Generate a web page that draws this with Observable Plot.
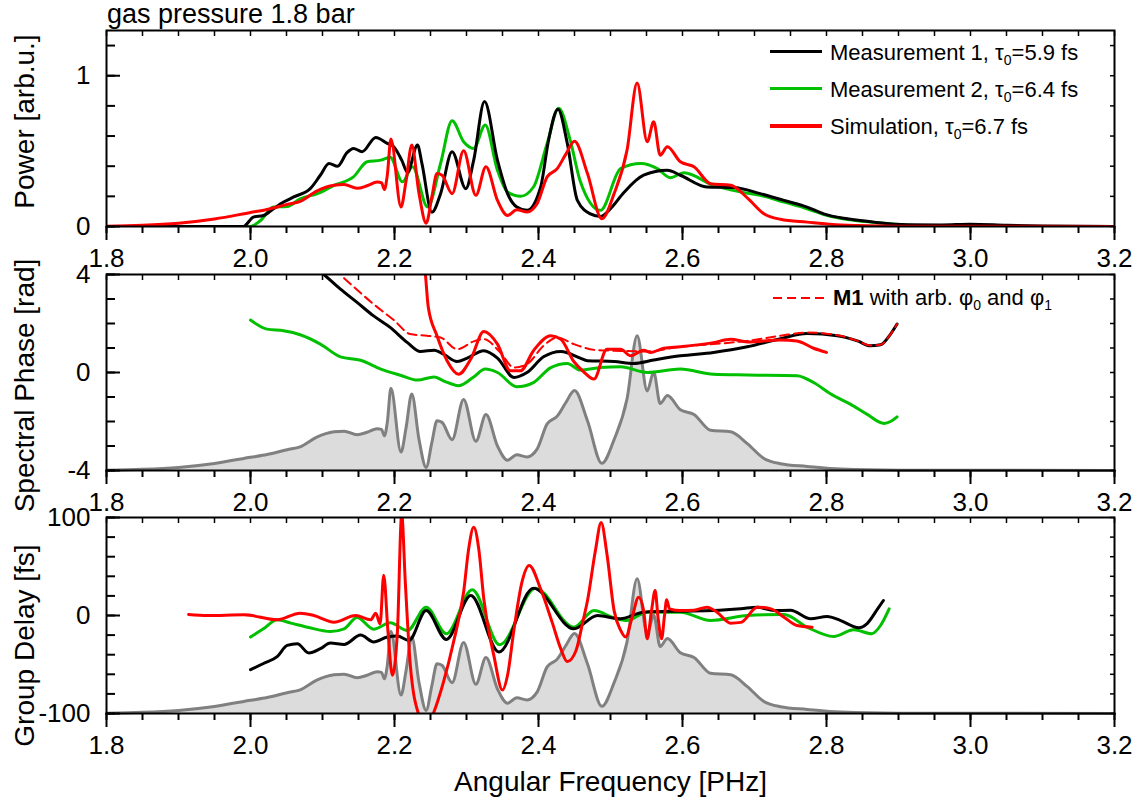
<!DOCTYPE html>
<html><head><meta charset="utf-8">
<script src="https://cdn.jsdelivr.net/npm/d3@7"></script>
<script src="https://cdn.jsdelivr.net/npm/@observablehq/plot@0.6"></script>
<style>
body{margin:0;background:#fff;font-family:"Liberation Sans",Arial,Helvetica,sans-serif;color:#000;}
#wrap{position:relative;width:1139px;height:809px;overflow:hidden;background:#fff;}
.abs{position:absolute;white-space:nowrap;}
.lg{font-size:22px;line-height:22px;}
.lg sub{font-size:14px;vertical-align:-5px;line-height:0;}
</style></head><body><div id="wrap"></div>
<script>
// ---------- axis ticks ----------
const xMajor = [1.8, 2.0, 2.2, 2.4, 2.6, 2.8, 3.0, 3.2];
const xMinor = d3.range(0, 29).map(i => +(1.8 + i * 0.05).toFixed(2));
const powerDomain = [0, 1.3];
const powerMajor = [0, 1];
const powerMinor = [0, 0.2, 0.4, 0.6, 0.8, 1.0, 1.2];
const phaseDomain = [-4, 4];
const phaseMajor = [-4, 0, 4];
const phaseMinor = [-4, -3, -2, -1, 0, 1, 2, 3, 4];
const gdDomain = [-100, 100];
const gdMajor = [-100, 0, 100];
const gdMinor = [-100, -80, -60, -40, -20, 0, 20, 40, 60, 80, 100];

// ---------- Power spectra [x, power] ----------
const powerM1 = [[1.80,0],[1.99,0],[2.004,0.062],[2.018,0.073],[2.032,0.118],[2.046,0.162],[2.06,0.196],[2.083,0.251],[2.097,0.34],[2.109,0.418],[2.121,0.40],[2.134,0.49],[2.143,0.518],[2.155,0.496],[2.174,0.591],[2.19,0.551],[2.199,0.529],[2.21,0.44],[2.218,0.36],[2.232,0.54],[2.238,0.42],[2.252,0.095],[2.264,0.218],[2.28,0.496],[2.299,0.251],[2.31,0.44],[2.325,0.829],[2.343,0.44],[2.357,0.218],[2.37,0.129],[2.384,0.107],[2.403,0.262],[2.414,0.573],[2.427,0.778],[2.44,0.551],[2.454,0.173],[2.472,0.084],[2.486,0.067],[2.5,0.118],[2.518,0.222],[2.546,0.34],[2.579,0.373],[2.597,0.34],[2.634,0.262],[2.671,0.258],[2.708,0.218],[2.741,0.173],[2.773,0.129],[2.796,0.084],[2.829,0.051],[2.866,0.029],[2.912,0.012],[2.96,0.01],[3.0,0.015],[3.05,0.008],[3.1,0.003],[3.2,0]];
const powerM2 = [[1.80,0],[2.0,0],[2.014,0.04],[2.032,0.129],[2.051,0.133],[2.069,0.184],[2.093,0.218],[2.116,0.273],[2.143,0.329],[2.162,0.429],[2.181,0.44],[2.194,0.46],[2.211,0.296],[2.225,0.396],[2.246,0.129],[2.264,0.418],[2.28,0.702],[2.296,0.562],[2.31,0.518],[2.326,0.673],[2.343,0.373],[2.357,0.229],[2.375,0.2],[2.393,0.262],[2.412,0.551],[2.428,0.784],[2.444,0.573],[2.458,0.3],[2.486,0.107],[2.514,0.384],[2.542,0.418],[2.565,0.384],[2.583,0.324],[2.602,0.356],[2.643,0.273],[2.681,0.229],[2.708,0.207],[2.741,0.162],[2.773,0.118],[2.801,0.073],[2.833,0.044],[2.88,0.022],[2.935,0.005],[3.0,0],[3.2,0]];
const powerSim = [[1.80,0.002],[1.85,0.008],[1.90,0.022],[1.95,0.05],[2.00,0.093],[2.023,0.113],[2.051,0.147],[2.069,0.167],[2.092,0.235],[2.116,0.273],[2.13,0.278],[2.148,0.253],[2.162,0.27],[2.176,0.295],[2.182,0.29],[2.186,0.245],[2.19,0.34],[2.195,0.58],[2.209,0.13],[2.216,0.3],[2.224,0.54],[2.234,0.22],[2.244,0.022],[2.252,0.2],[2.259,0.351],[2.266,0.34],[2.28,0.218],[2.296,0.502],[2.313,0.207],[2.327,0.396],[2.343,0.173],[2.357,0.073],[2.37,0.111],[2.384,0.096],[2.398,0.151],[2.412,0.329],[2.426,0.384],[2.438,0.48],[2.45,0.565],[2.468,0.351],[2.488,0.051],[2.505,0.218],[2.523,0.507],[2.537,0.951],[2.551,0.562],[2.56,0.695],[2.569,0.473],[2.579,0.529],[2.597,0.429],[2.616,0.396],[2.639,0.284],[2.667,0.273],[2.69,0.19],[2.713,0.085],[2.736,0.048],[2.773,0.029],[2.82,0.01],[2.9,0.002],[3.2,0]];

// ---------- Spectral phase [x, rad] ----------
const phaseM1 = [[2.0,6.9],[2.05,5.3],[2.08,4.55],[2.102,4.0],[2.125,3.4],[2.148,2.86],[2.171,2.31],[2.194,1.84],[2.218,1.22],[2.236,0.86],[2.255,0.91],[2.268,0.75],[2.287,0.45],[2.301,0.59],[2.324,0.89],[2.343,0.59],[2.366,-0.2],[2.384,0.0],[2.407,0.64],[2.431,0.86],[2.458,0.59],[2.468,0.48],[2.505,0.45],[2.532,0.37],[2.56,0.51],[2.597,0.68],[2.643,0.82],[2.69,1.05],[2.736,1.38],[2.773,1.59],[2.815,1.5],[2.843,1.29],[2.861,1.09],[2.875,1.13],[2.889,1.57],[2.898,1.98]];
const phaseM1arb = [[2.13,3.85],[2.171,2.79],[2.199,2.14],[2.222,1.57],[2.245,1.5],[2.264,1.43],[2.287,0.95],[2.31,1.27],[2.324,1.36],[2.347,0.82],[2.366,0.2],[2.384,0.34],[2.407,1.09],[2.426,1.43],[2.449,1.16],[2.482,0.91],[2.505,0.89],[2.551,0.86],[2.597,1.05],[2.643,1.16],[2.69,1.29],[2.736,1.5],[2.773,1.63],[2.819,1.5],[2.843,1.29],[2.861,1.1],[2.875,1.13],[2.889,1.57],[2.898,1.98]];
const phaseM2 = [[2.0,2.14],[2.023,1.77],[2.046,1.7],[2.069,1.54],[2.097,1.16],[2.125,0.64],[2.153,0.5],[2.181,0.14],[2.208,-0.11],[2.232,-0.31],[2.255,-0.18],[2.268,-0.34],[2.289,-0.54],[2.31,-0.18],[2.326,0.14],[2.343,0.0],[2.37,-0.58],[2.393,-0.41],[2.417,0.2],[2.44,0.37],[2.458,0.1],[2.486,0.2],[2.514,0.23],[2.551,0.0],[2.597,0.14],[2.643,-0.07],[2.69,-0.1],[2.759,-0.13],[2.782,-0.41],[2.806,-0.88],[2.833,-1.29],[2.856,-1.7],[2.88,-2.08],[2.889,-2.0],[2.898,-1.81]];
const phaseSim = [[2.232,8.0],[2.243,4.0],[2.247,2.65],[2.259,1.5],[2.273,0.48],[2.289,-0.07],[2.306,0.55],[2.324,1.67],[2.343,1.16],[2.361,0.07],[2.375,0.07],[2.393,0.89],[2.417,1.5],[2.431,1.36],[2.449,0.45],[2.462,0.05],[2.477,-0.27],[2.495,0.95],[2.514,0.95],[2.528,0.68],[2.546,0.91],[2.556,0.82],[2.574,0.99],[2.597,1.05],[2.643,1.22],[2.667,1.36],[2.69,1.25],[2.736,1.33],[2.759,1.29],[2.782,0.99],[2.8,0.82]];

// ---------- Group delay [x, fs] ----------
const gdM1 = [[2.0,-55.3],[2.018,-49],[2.037,-42],[2.051,-30.5],[2.065,-28.8],[2.081,-38.3],[2.097,-33.9],[2.111,-28.1],[2.13,-29.5],[2.153,-20],[2.171,-27],[2.19,-22],[2.204,-21],[2.22,-25.4],[2.244,5],[2.272,-24.4],[2.306,20.3],[2.345,-37.3],[2.393,27.8],[2.449,-13.6],[2.482,0],[2.514,-3.4],[2.546,3.4],[2.597,4.4],[2.643,5],[2.681,6.8],[2.704,8.5],[2.727,5],[2.75,5.4],[2.778,-3.4],[2.801,-1],[2.819,-5],[2.845,-12.5],[2.856,-8.5],[2.871,6.8],[2.879,15.3]];
const gdM2 = [[2.0,-22],[2.018,-13.6],[2.037,-4.4],[2.056,-7.8],[2.079,-11.9],[2.111,-16.3],[2.13,-13.6],[2.148,-2],[2.171,-14],[2.194,-7.5],[2.218,-15.3],[2.244,8.5],[2.272,-18.6],[2.308,26.4],[2.346,-29.8],[2.396,27.8],[2.449,-11.9],[2.477,5],[2.505,-2.4],[2.523,-5],[2.551,3.4],[2.597,3.4],[2.639,-5],[2.69,0],[2.741,1],[2.773,-11.9],[2.81,-21.4],[2.838,-14.6],[2.863,-18.6],[2.875,-10.2],[2.887,6.8]];
const gdSim = [[1.914,1],[1.94,0],[1.991,0.7],[2.037,-4.4],[2.069,2.4],[2.088,0],[2.116,-6.8],[2.146,0],[2.167,-4.4],[2.174,2.4],[2.18,-8.5],[2.185,41],[2.191,-17],[2.197,-61],[2.204,-17],[2.21,103],[2.215,34],[2.222,-51],[2.234,-102],[2.245,-115],[2.255,-98],[2.268,-68],[2.282,-27],[2.296,24],[2.303,68],[2.31,90],[2.317,68],[2.324,17],[2.338,-41],[2.35,-76],[2.357,-61],[2.366,-14],[2.377,34],[2.387,51],[2.403,27],[2.419,-7],[2.431,-34],[2.44,-47],[2.452,-36],[2.462,-5],[2.468,15],[2.479,66],[2.487,95],[2.495,63],[2.505,5],[2.514,-15],[2.521,-22],[2.53,-2],[2.539,18.6],[2.546,5],[2.551,-23.7],[2.557,5],[2.562,25.4],[2.566,-2],[2.571,-23.7],[2.575,0],[2.578,16],[2.582,6.8],[2.597,5],[2.616,5.4],[2.634,8.5],[2.648,3.4],[2.667,-7.8],[2.681,-7],[2.704,8.5],[2.722,7],[2.741,-1.7],[2.759,-10.2],[2.78,-11.9]];

// ---------- styles ----------
const FONT = '"Liberation Sans", Arial, Helvetica, sans-serif';
const BLACK = "#000000", GREEN = "#00c000", RED = "#ff0000", GRAY = "#808080", GRAYFILL = "#dcdcdc";
const specFrac = 0.7225; // gray spectrum height as fraction of the panel's y range

const X = d => d[0], Y = d => d[1];
function ln(data, stroke, extra = {}) {
  return Plot.line(data, {x: X, y: Y, stroke, strokeWidth: 3, curve: "monotone-x", clip: true, ...extra});
}
function graySpectrum(domain) {
  const base = domain[0], k = (domain[1] - domain[0]) * specFrac;
  return [
    Plot.areaY(powerSim, {x: X, y1: base, y2: d => base + d[1] * k, fill: GRAYFILL, curve: "monotone-x"}),
    Plot.line(powerSim, {x: X, y: d => base + d[1] * k, stroke: GRAY, strokeWidth: 3, curve: "monotone-x"})
  ];
}
function axes(yMajor, yMinor) {
  const none = () => "";
  return [
    Plot.frame({stroke: BLACK, strokeWidth: 2}),
    Plot.axisX(xMinor, {anchor: "bottom", tickSize: 7, strokeWidth: 2, tickFormat: none, label: null}),
    Plot.axisX(xMajor, {anchor: "bottom", tickSize: 14, strokeWidth: 2, tickFormat: none, label: null}),
    Plot.axisX(xMajor, {anchor: "bottom", tickSize: 0, tickPadding: 22, tickFormat: d => d.toFixed(1), fontSize: 26, fontFamily: FONT, fill: BLACK, label: null}),
    Plot.axisX(xMinor, {anchor: "top", tickSize: -5, strokeWidth: 1.5, tickFormat: none, label: null}),
    Plot.axisY(yMinor, {anchor: "left", tickSize: -9, strokeWidth: 2, tickFormat: none, label: null}),
    Plot.axisY(yMajor, {anchor: "left", tickSize: -14, strokeWidth: 2, tickFormat: none, label: null}),
    Plot.axisY(yMajor, {anchor: "left", tickSize: 0, tickPadding: 16, tickFormat: d => String(d), fontSize: 26, fontFamily: FONT, fill: BLACK, label: null}),
    Plot.axisY(yMinor, {anchor: "right", tickSize: -5, strokeWidth: 1.5, tickFormat: none, label: null})
  ];
}
function yTitle(text, dy) {
  return Plot.text([text], {frameAnchor: "left", textAnchor: "middle", lineAnchor: "middle", text: d => d, rotate: -90, dx: -81, dy, fontSize: 28, fontFamily: FONT, fill: BLACK});
}
function panel({top, height, mt, mb, domain, marks}) {
  const svg = Plot.plot({
    width: 1139, height, marginLeft: 106, marginRight: 25, marginTop: mt, marginBottom: mb,
    style: `overflow: visible; background: transparent; font-family: ${FONT}; color: #000;`,
    x: {domain: [1.8, 3.2]},
    y: {domain},
    marks
  });
  svg.style.position = "absolute";
  svg.style.left = "0px";
  svg.style.top = top + "px";
  return svg;
}

const wrap = document.getElementById("wrap");

// Panel 1: power
wrap.appendChild(panel({top: 0, height: 270, mt: 30, mb: 44, domain: powerDomain, marks: [
  ln(powerM2, GREEN), ln(powerM1, BLACK), ln(powerSim, RED),
  ...axes(powerMajor, powerMinor),
  yTitle("Power [arb.u.]", -7)
]}));

// Panel 2: spectral phase
wrap.appendChild(panel({top: 270, height: 240, mt: 4, mb: 40, domain: phaseDomain, marks: [
  ...graySpectrum(phaseDomain),
  ln(phaseM2, GREEN), ln(phaseM1, BLACK),
  ln(phaseM1arb, RED, {strokeWidth: 2, strokeDasharray: "9,5"}),
  ln(phaseSim, RED),
  ...axes(phaseMajor, phaseMinor),
  yTitle("Spectral Phase [rad]", 13)
]}));

// Panel 3: group delay
wrap.appendChild(panel({top: 510, height: 299, mt: 7, mb: 96, domain: gdDomain, marks: [
  ...graySpectrum(gdDomain),
  ln(gdM2, GREEN), ln(gdM1, BLACK), ln(gdSim, RED),
  ...axes(gdMajor, gdMinor),
  yTitle("Group Delay [fs]", 30),
  Plot.text(["Angular Frequency [PHz]"], {frameAnchor: "bottom", lineAnchor: "bottom", text: d => d, dy: 77, fontSize: 28, fontFamily: FONT, fill: BLACK})
]}));

// Title and legends (HTML overlays)
function addDiv(html, style, cls = "abs") {
  const d = document.createElement("div");
  d.className = cls;
  d.innerHTML = html;
  Object.assign(d.style, style);
  wrap.appendChild(d);
  return d;
}
addDiv("gas pressure 1.8 bar", {left: "107px", top: "0px", fontSize: "27px", lineHeight: "29px"});

const legend1 = [
  {color: BLACK, html: "Measurement 1, τ<sub>0</sub>=5.9 fs", y: 51.5},
  {color: GREEN, html: "Measurement 2, τ<sub>0</sub>=6.4 fs", y: 88.5},
  {color: RED, html: "Simulation, τ<sub>0</sub>=6.7 fs", y: 126}
];
legend1.forEach(r => {
  addDiv("", {left: "770px", top: (r.y - 1.75) + "px", width: "52px", height: "3.5px", background: r.color});
  addDiv(r.html, {left: "830px", top: (r.y - 10) + "px"}, "abs lg");
});
addDiv('<svg width="54" height="4"><line x1="0" y1="2" x2="54" y2="2" stroke="#ff0000" stroke-width="2" stroke-dasharray="9,5"/></svg>', {left: "773px", top: "295px", lineHeight: "0"});
addDiv("<b>M1</b> with arb. φ<sub>0</sub> and φ<sub>1</sub>", {left: "833px", top: "287px"}, "abs lg");
</script></body></html>
